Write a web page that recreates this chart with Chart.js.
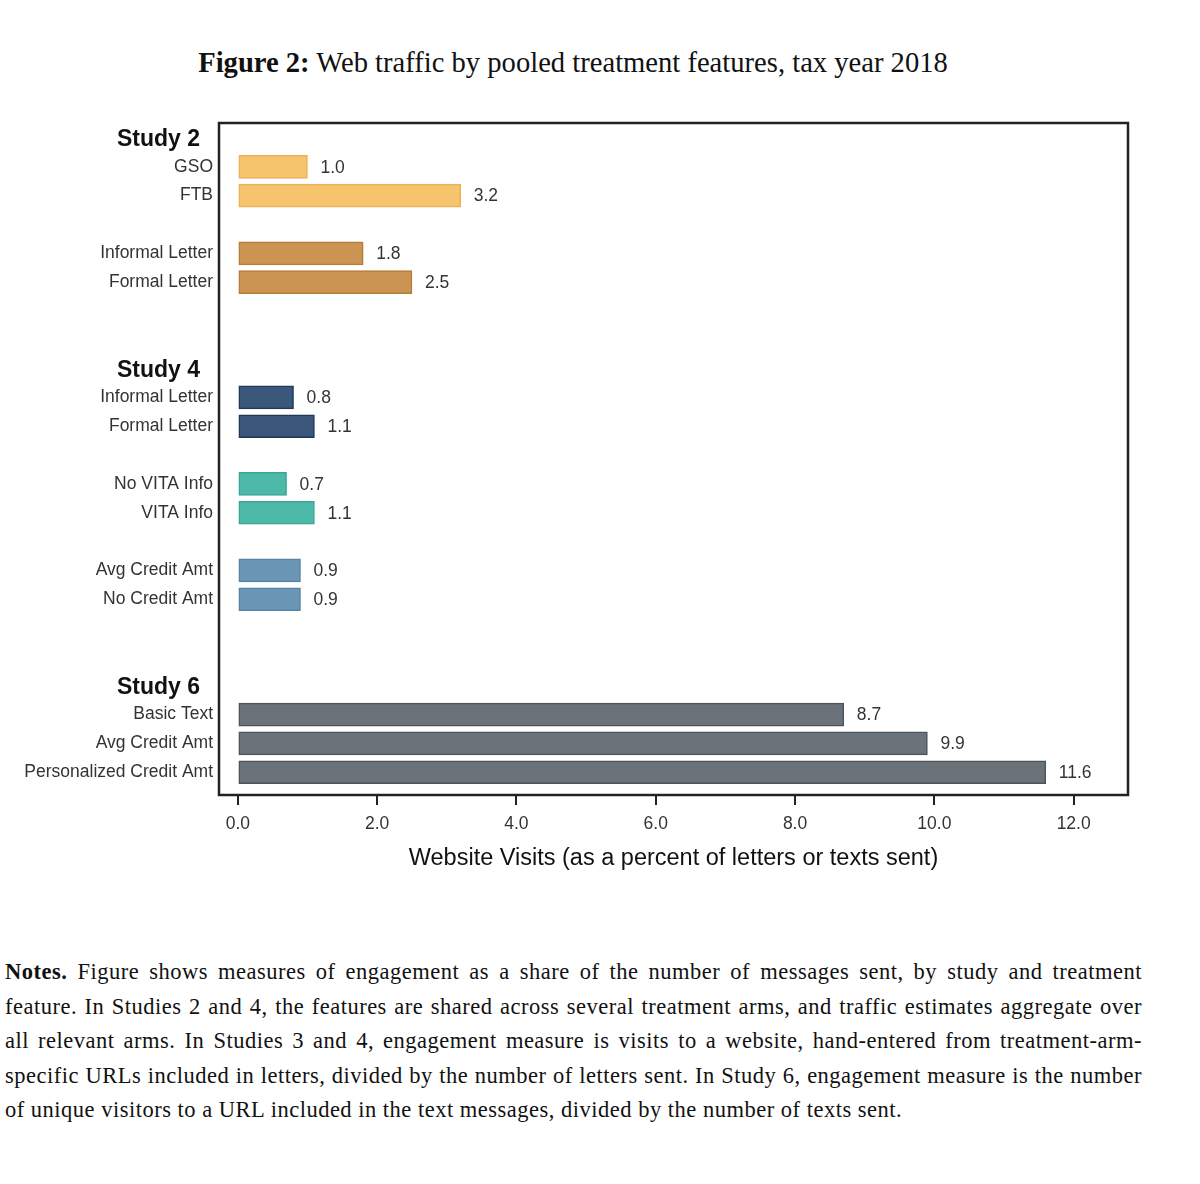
<!DOCTYPE html>
<html>
<head>
<meta charset="utf-8">
<script src="https://cdn.jsdelivr.net/npm/chart.js@4.4.1/dist/chart.umd.min.js"></script>
<style>
  body { margin: 0; background: #fff; width: 1200px; height: 1184px; position: relative; }
  #title { position: absolute; top: 47px; left: 0; width: 1146px; text-align: center;
           font-family: "Liberation Serif", serif; font-size: 28.6px; color: #111; }
  #box { position: absolute; top: 100px; left: 0; width: 1200px; height: 790px; }
  #notes { position: absolute; top: 955px; left: 5px; width: 1137px;
           font-family: "Liberation Serif", serif; font-size: 22.5px; letter-spacing: 0.5px; color: #111; }
  #notes div { line-height: 34.5px; text-align: justify; text-align-last: justify; white-space: nowrap; }
  #notes div.last { text-align-last: left; }
</style>
</head>
<body>
<div id="title"><b>Figure 2:</b> Web traffic by pooled treatment features, tax year 2018</div>
<div id="box"><canvas id="chart"></canvas></div>
<div id="notes">
  <div><b>Notes.</b> Figure shows measures of engagement as a share of the number of messages sent, by study and treatment</div>
  <div>feature. In Studies 2 and 4, the features are shared across several treatment arms, and traffic estimates aggregate over</div>
  <div>all relevant arms. In Studies 3 and 4, engagement measure is visits to a website, hand-entered from treatment-arm-</div>
  <div>specific URLs included in letters, divided by the number of letters sent. In Study 6, engagement measure is the number</div>
  <div class="last">of unique visitors to a URL included in the text messages, divided by the number of texts sent.</div>
</div>
<script>
// rows top to bottom, '' = spacer row
var rowLabels = ['Study 2', 'GSO', 'FTB', '', 'Informal Letter', 'Formal Letter', '', '',
  'Study 4', 'Informal Letter', 'Formal Letter', '', 'No VITA Info', 'VITA Info', '', 'Avg Credit Amt', 'No Credit Amt', '', '',
  'Study 6', 'Basic Text', 'Avg Credit Amt', 'Personalized Credit Amt'];
var headRows = [0, 8, 19];
var visits = [null, 1.0, 3.2, null, 1.8, 2.5, null, null,
  null, 0.8, 1.1, null, 0.7, 1.1, null, 0.9, 0.9, null, null,
  null, 8.7, 9.9, 11.6];
var groups = ['', 's2src', 's2src', '', 's2let', 's2let', '', '',
  '', 's4let', 's4let', '', 'vita', 'vita', '', 'credit', 'credit', '', '',
  '', 's6', 's6', 's6'];
var xTicks = [0, 2, 4, 6, 8, 10, 12];

var fill = { s2src: '#F6C46C', s2let: '#CB9452', s4let: '#3B5779', vita: '#4DB9A9', credit: '#6B96B6', s6: '#6A737A' };
var edge = { s2src: '#EDB055', s2let: '#B47C38', s4let: '#1F3858', vita: '#3AA595', credit: '#5584A6', s6: '#4C545A' };

var points = visits.map(function(v, i) { return { x: v, y: i }; });

var txt = '#333';
var sans = '"Liberation Sans", Arial, sans-serif';

var extras = {
  id: 'extras',
  afterDatasetsDraw: function(chart) {
    var ctx = chart.ctx, a = chart.chartArea, ys = chart.scales.y, xs = chart.scales.x;
    ctx.save();
    // value labels
    ctx.font = '17.5px ' + sans;
    ctx.fillStyle = txt;
    ctx.textAlign = 'left';
    ctx.textBaseline = 'middle';
    visits.forEach(function(v, i) {
      if (v == null) return;
      ctx.fillText(v.toFixed(1), xs.getPixelForValue(v) + 13, ys.getPixelForValue(i) + 1);
    });
    // study headings
    ctx.font = 'bold 23px ' + sans;
    ctx.fillStyle = '#111';
    ctx.textAlign = 'right';
    headRows.forEach(function(r) {
      ctx.fillText(rowLabels[r], 200, ys.getPixelForValue(r) + 2);
    });
    // frame
    ctx.strokeStyle = '#222';
    ctx.lineWidth = 2.5;
    ctx.strokeRect(a.left, a.top, a.right - a.left, a.bottom - a.top);
    ctx.restore();
  }
};

new Chart(document.getElementById('chart'), {
  type: 'bar',
  data: {
    datasets: [{
      data: points,
      backgroundColor: groups.map(function(g) { return fill[g] || 'transparent'; }),
      borderColor: groups.map(function(g) { return edge[g] || 'transparent'; }),
      borderWidth: 1.5,
      borderSkipped: false,
      barThickness: 23
    }]
  },
  options: {
    indexAxis: 'y',
    responsive: true,
    maintainAspectRatio: false,
    animation: false,
    layout: { padding: { top: 23, right: 72, left: 0, bottom: 0 } },
    plugins: { legend: { display: false }, tooltip: { enabled: false } },
    scales: {
      x: {
        type: 'linear',
        min: -0.27,
        max: 12.78,
        afterBuildTicks: function(s) { s.ticks = xTicks.map(function(v) { return { value: v }; }); },
        afterFit: function(s) { s.height = 95; },
        grid: { drawOnChartArea: false, drawTicks: true, tickLength: 10, color: '#222', lineWidth: 2 },
        border: { display: false },
        ticks: { color: txt, font: { family: sans, size: 17.5 }, padding: 9,
                 callback: function(v) { return v.toFixed(1); } },
        title: { display: true, text: 'Website Visits (as a percent of letters or texts sent)',
                 color: '#111', font: { family: sans, size: 23.5 }, padding: { top: 0, bottom: 17 } }
      },
      y: {
        type: 'linear',
        reverse: true,
        offset: false,
        min: -0.52,
        max: 22.79,
        afterBuildTicks: function(s) { s.ticks = rowLabels.map(function(l, i) { return { value: i }; }); },
        afterFit: function(s) { s.width = 219; },
        grid: { display: false, offset: false, tickLength: 0 },
        border: { display: false },
        ticks: { color: txt, font: { family: sans, size: 17.5 }, padding: 6, autoSkip: false,
                 callback: function(v) { return headRows.indexOf(v) >= 0 ? '' : rowLabels[v]; } }
      }
    }
  },
  plugins: [extras]
});
</script>
</body>
</html>
